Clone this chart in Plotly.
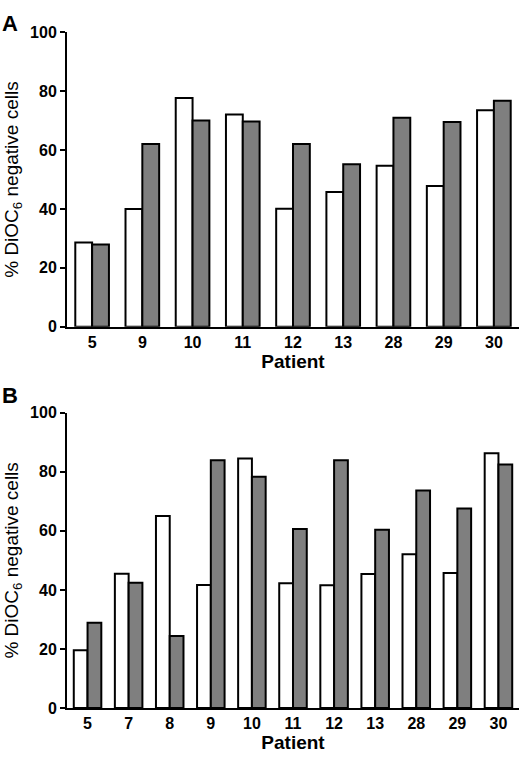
import plotly.graph_objects as go

# panel A
patients_a = ["5", "9", "10", "11", "12", "13", "28", "29", "30"]
white_a = [28.6, 40.0, 77.7, 72.1, 40.1, 45.8, 54.7, 47.8, 73.6]
gray_a = [27.9, 62.1, 70.1, 69.7, 62.1, 55.2, 71.0, 69.6, 76.8]

# panel B
patients_b = ["5", "7", "8", "9", "10", "11", "12", "13", "28", "29", "30"]
white_b = [19.6, 45.5, 65.0, 41.7, 84.5, 42.3, 41.6, 45.4, 52.1, 45.7, 86.3]
gray_b = [28.9, 42.4, 24.4, 83.9, 78.3, 60.6, 83.9, 60.4, 73.7, 67.6, 82.5]

y_ticks = [0, 20, 40, 60, 80, 100]

FONT = "Liberation Sans, Arial, sans-serif"
W, H = 520, 762
bar_line = dict(color="black", width=2)

fig = go.Figure()
fig.add_trace(go.Bar(x=patients_a, y=white_a, name="white", marker=dict(color="white", line=bar_line),
                     xaxis="x", yaxis="y"))
fig.add_trace(go.Bar(x=patients_a, y=gray_a, name="gray", marker=dict(color="#7f7f7f", line=bar_line),
                     xaxis="x", yaxis="y"))
fig.add_trace(go.Bar(x=patients_b, y=white_b, name="white", marker=dict(color="white", line=bar_line),
                     xaxis="x2", yaxis="y2"))
fig.add_trace(go.Bar(x=patients_b, y=gray_b, name="gray", marker=dict(color="#7f7f7f", line=bar_line),
                     xaxis="x2", yaxis="y2"))

xax = dict(type="category", showline=True, linecolor="black", linewidth=2, ticks="",
           tickfont=dict(family=FONT, size=16, color="black", weight="bold"),
           title=dict(text="Patient", font=dict(family=FONT, size=19, color="black", weight="bold"), standoff=2),
           showgrid=False, zeroline=False)
yax = dict(range=[0, 100], tickvals=y_ticks, showline=True, linecolor="black", linewidth=2,
           ticks="outside", ticklen=5, tickwidth=2, tickcolor="black",
           tickfont=dict(family=FONT, size=16, color="black", weight="bold"),
           title=dict(text="% DiOC<sub>6</sub> negative cells", font=dict(family=FONT, size=19, color="black"),
                      standoff=6),
           showgrid=False, zeroline=False)

x0, x1 = 67 / W, 519 / W
fig.update_layout(
    width=W, height=H,
    margin=dict(l=0, r=0, t=0, b=0),
    paper_bgcolor="white", plot_bgcolor="white",
    showlegend=False,
    barmode="group", bargap=0.33, bargroupgap=0,
    xaxis=dict(xax, domain=[x0, x1], anchor="y"),
    yaxis=dict(yax, domain=[1 - 326 / H, 1 - 25 / H], anchor="x"),
    xaxis2=dict(xax, domain=[x0, x1], anchor="y2"),
    yaxis2=dict(yax, domain=[1 - 716 / H, 1 - 414 / H], anchor="x2"),
    annotations=[
        dict(text="<b>A</b>", x=0, y=1 - 1 / H, xref="paper", yref="paper", xanchor="left", yanchor="top",
             showarrow=False, font=dict(family=FONT, size=22, color="black")),
        dict(text="<b>B</b>", x=0, y=1 - 381 / H, xref="paper", yref="paper", xanchor="left", yanchor="top",
             showarrow=False, font=dict(family=FONT, size=22, color="black")),
    ],
)

fig.write_html("out.html", config={"displayModeBar": False},
               post_script="document.body.style.margin='0';")
